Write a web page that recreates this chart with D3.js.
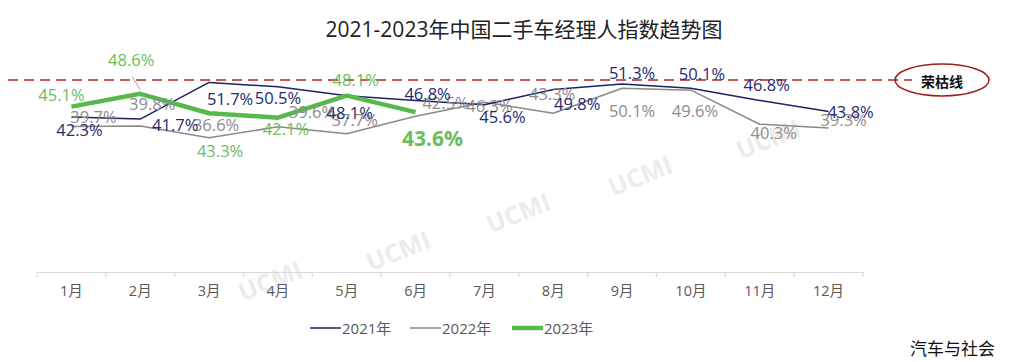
<!DOCTYPE html>
<html><head><meta charset="utf-8">
<script src="https://cdn.jsdelivr.net/npm/d3@7"></script>
<style>
body{margin:0;background:#fff;}
text{font-family:"Open Sans","Noto Sans CJK SC",sans-serif;}
</style></head>
<body>
<svg id="chart" width="1010" height="362"></svg>
<script>
// ---- data ----
const months = ["1月","2月","3月","4月","5月","6月","7月","8月","9月","10月","11月","12月"];
const seriesNames = ["2021年","2022年","2023年"];
const values2021 = [42.3,41.7,51.7,50.5,48.1,46.8,45.6,49.8,51.3,50.1,46.8,43.8];
const values2022 = [39.7,39.8,36.6,39.6,37.7,42.5,46.3,43.3,50.1,49.6,40.3,39.3];
const values2023 = [45.1,48.6,43.3,42.1,48.1,43.6];
const title = "2021-2023年中国二手车经理人指数趋势图";
const thresholdLabel = "荣枯线";
const sourceLabel = "汽车与社会";
const watermark = "UCMI";

// ---- layout (label offsets relative to points) ----
const off2021 = [[8,13],[35,5],[21,16],[0,11],[3,17],[12,-7],[18,12],[24,14],[10,-11],[11,-15],[7,-16],[22,0]];
const off2022 = [[22,-10],[12,-23],[7,-13],[34,-15],[8,-14],[30,-14],[5,3],[-1,-20],[10,22],[4,20],[14,8],[15,-8]];
const off2023 = [[-10,-12],[-9,-34],[11,37],[8,11],[9,-16],[17,26]];

const svg = d3.select("#chart");
const x = d3.scaleBand().domain(months).range([37,863]);
const y = d3.scaleLinear().domain([0,60]).range([272,52]);
const cx = m => x(m) + x.bandwidth()/2;

// watermark
[[270,280],[398,250],[518,212],[640,175],[768,138]].forEach(([wx,wy])=>{
  svg.append("text").attr("x",wx).attr("y",wy).attr("text-anchor","middle")
    .attr("dominant-baseline","central")
    .attr("transform",`rotate(-22,${wx},${wy})`)
    .attr("font-size",25).attr("font-weight","bold").attr("fill","#ececec").text(watermark);
});

// title
svg.append("text").attr("x",524).attr("y",37).attr("text-anchor","middle")
  .attr("font-size",21).attr("fill","#222").text(title);

// x axis
const ax = svg.append("g").attr("transform","translate(0,272)")
  .call(d3.axisBottom(x).tickSize(0).tickPadding(14));
ax.select(".domain").attr("stroke","#d9d9d9").attr("stroke-width",1.2);
ax.selectAll(".tick text").attr("font-size",14.5).attr("fill","#595959")
  .style("font-family","'Open Sans','Noto Sans CJK SC',sans-serif");
// boundary ticks
svg.append("g").selectAll("line").data(d3.range(13)).join("line")
  .attr("x1",i=>37+i*x.step()).attr("x2",i=>37+i*x.step())
  .attr("y1",272).attr("y2",277).attr("stroke","#d9d9d9").attr("stroke-width",1.2);

// threshold dashed line + ellipse
svg.append("line").attr("x1",8).attr("x2",912).attr("y1",80).attr("y2",80)
  .attr("stroke","#b22222").attr("stroke-width",1.4).attr("stroke-dasharray","10,6");
svg.append("ellipse").attr("cx",942).attr("cy",80).attr("rx",47).attr("ry",16)
  .attr("fill","none").attr("stroke","#a01c1c").attr("stroke-width",1.5);
svg.append("text").attr("x",942).attr("y",81).attr("text-anchor","middle")
  .attr("dominant-baseline","central").attr("font-size",14).attr("font-weight","bold")
  .attr("fill","#111").style("font-family","'Noto Sans CJK SC',sans-serif").text(thresholdLabel);

const line = d3.line().x((d,i)=>cx(months[i])).y(d=>y(d));

const series = [
  {vals:values2022, color:"#8a8a8a", width:1.5, label:"#8c8c8c", off:off2022, fs:16.5},
  {vals:values2021, color:"#1f2068", width:1.5, label:"#262a6e", off:off2021, fs:16.5},
  {vals:values2023, color:"#57b84e", width:4.5, label:"#6bbd5e", off:off2023, fs:16.5}
];
series.forEach(s=>{
  svg.append("path").attr("d",line(s.vals)).attr("fill","none")
    .attr("stroke",s.color).attr("stroke-width",s.width).attr("stroke-linejoin","round");
});
// leader line for 2023 Feb label
svg.append("line").attr("x1",cx(months[1])-8).attr("y1",y(values2023[1])-17)
  .attr("x2",cx(months[1])).attr("y2",y(values2023[1])-4)
  .attr("stroke","#a0a0a0").attr("stroke-width",1);

series.forEach((s,si)=>{
  svg.append("g").selectAll("text").data(s.vals).join("text")
    .attr("x",(d,i)=>cx(months[i])+s.off[i][0])
    .attr("y",(d,i)=>y(d)+s.off[i][1])
    .attr("text-anchor","middle").attr("dominant-baseline","central")
    .attr("font-size",(d,i)=> (si===2 && i===s.vals.length-1) ? 21 : s.fs)
    .attr("font-weight",(d,i)=> (si===2 && i===s.vals.length-1) ? "bold" : "normal")
    .attr("fill",s.label).text(d=>d.toFixed(1)+"%");
});

// legend
const leg = [
  {name:seriesNames[0], color:"#1f2068", w:1.5, x1:310},
  {name:seriesNames[1], color:"#8a8a8a", w:1.5, x1:410},
  {name:seriesNames[2], color:"#57b84e", w:4.5, x1:512}
];
leg.forEach(l=>{
  svg.append("line").attr("x1",l.x1).attr("x2",l.x1+31).attr("y1",328).attr("y2",328)
    .attr("stroke",l.color).attr("stroke-width",l.w);
  svg.append("text").attr("x",l.x1+32).attr("y",328).attr("dominant-baseline","central")
    .attr("font-size",15).attr("fill","#595959").text(l.name);
});

// source
svg.append("text").attr("x",995).attr("y",347).attr("text-anchor","end")
  .attr("dominant-baseline","central").attr("font-size",17).attr("fill","#111")
  .style("font-family","'Noto Sans CJK SC',sans-serif").text(sourceLabel);
</script>
</body></html>
